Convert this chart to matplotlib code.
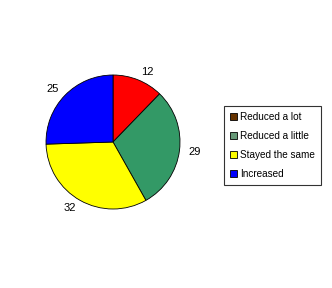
import matplotlib
matplotlib.use("Agg")
import matplotlib.pyplot as plt
from matplotlib.patches import Patch

categories = ["Reduced a lot", "Reduced a little", "Stayed the same", "Increased"]
values = [12, 29, 32, 25]
slice_colors = ["#ff0000", "#339966", "#ffff00", "#0000ff"]
legend_colors = ["#663300", "#669977", "#ffff00", "#0000ff"]

plt.rcParams['font.family'] = ['Liberation Sans', 'DejaVu Sans']

fig = plt.figure(figsize=(3.32, 2.88), dpi=100)
fig.patch.set_facecolor("white")
ax = fig.add_axes([0.1386, 0.2743, 0.4036, 0.4653])
ax.pie(values, colors=slice_colors, startangle=90, counterclock=False,
       labels=[str(v) for v in values], labeldistance=1.13,
       wedgeprops=dict(edgecolor="black", linewidth=0.6),
       textprops=dict(fontsize=8, color="black"))
ax.set_xlim(-1, 1)
ax.set_ylim(-1, 1)
ax.set_aspect("equal")
ax.axis("off")

handles = [Patch(facecolor=c, edgecolor="black", linewidth=0.6) for c in legend_colors]
leg = fig.legend(handles, categories, loc="upper left",
                 bbox_to_anchor=(224/332, 1-106/288), fontsize=7.2,
                 frameon=True, fancybox=False, shadow=False,
                 handlelength=0.7, handleheight=0.7, handletextpad=0.3,
                 labelspacing=0.9, borderpad=0.6, borderaxespad=0)
leg.get_frame().set_edgecolor("black")
leg.get_frame().set_linewidth(0.8)

fig.savefig("out.png", dpi=100, facecolor="white")
